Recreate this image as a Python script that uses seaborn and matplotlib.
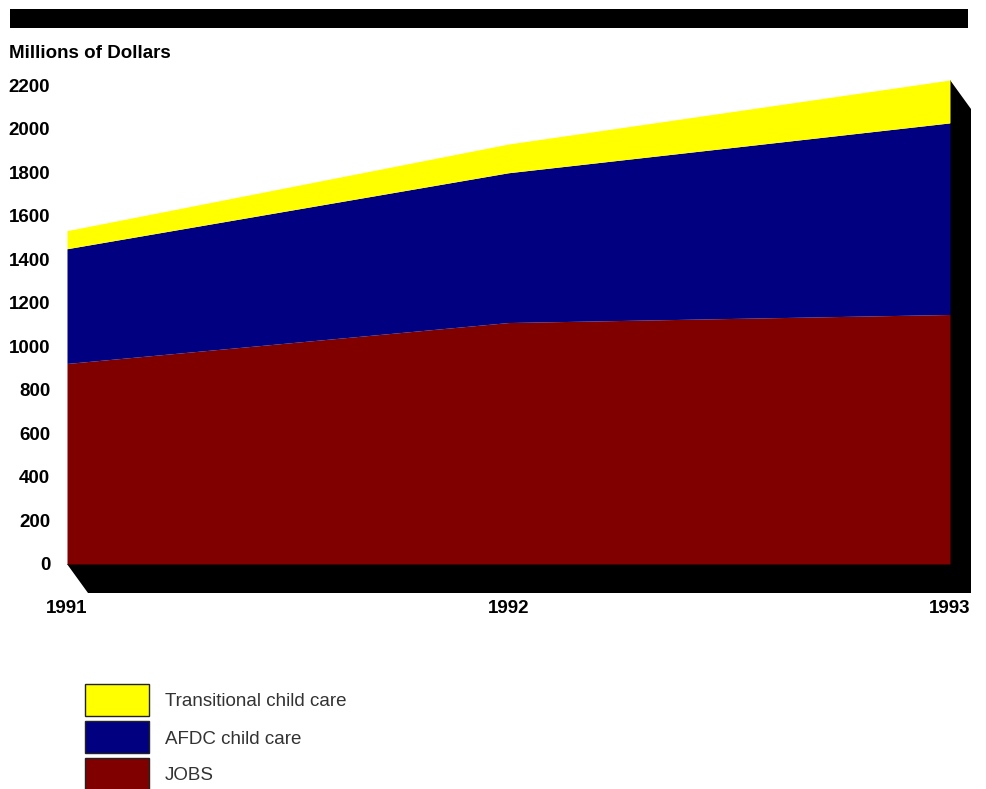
import matplotlib
matplotlib.use("Agg")
import matplotlib.pyplot as plt
from matplotlib.patches import Rectangle, Polygon
import seaborn as sns
import pandas as pd
import numpy as np

years = [1991, 1992, 1993]
jobs = [921, 1109, 1146]
afdc = [527, 688, 880]
transitional = [83, 132, 197]
series_names = ["Transitional child care", "AFDC child care", "JOBS"]
series_colors = ["#FFFF00", "#000080", "#800000"]
yticks = list(range(0, 2201, 200))

df = pd.DataFrame({"year": years, "JOBS": jobs, "AFDC child care": afdc,
                   "Transitional child care": transitional})

sns.set_theme(style="white")
plt.rcParams["font.family"] = ["Liberation Sans", "DejaVu Sans"]
plt.rcParams["text.color"] = "black"
plt.rcParams["xtick.color"] = "black"
plt.rcParams["ytick.color"] = "black"

W, H = 987, 789
fig = plt.figure(figsize=(W / 100, H / 100), dpi=100)

# axes placement in pixels
x0, x1 = 67, 950
y_zero = 564
px_per_unit = (564 - 85) / 2200.0
ytop = 2300
ax_h = ytop * px_per_unit
ax = fig.add_axes([x0 / W, (H - y_zero) / H, (x1 - x0) / W, ax_h / H])
ax.set_xlim(1991, 1993)
ax.set_ylim(0, ytop)

c1 = np.array(jobs)
c2 = c1 + np.array(afdc)
c3 = c2 + np.array(transitional)
ax.fill_between(df["year"], 0, c1, color=series_colors[2], lw=0, zorder=3)
ax.fill_between(df["year"], c1, c2, color=series_colors[1], lw=0, zorder=3)
ax.fill_between(df["year"], c2, c3, color=series_colors[0], lw=0, zorder=3)

# 3D shadow
fig.canvas.draw()
dx, dy = 21, -29
tr = ax.transData
A = tr.transform((1991, 0))
B = tr.transform((1993, 0))
C = tr.transform((1993, c3[-1]))
o = np.array([dx, dy])
pts = np.array([A, A + o, B + o, C + o, C, B])
pts_fig = pts / np.array([W, H])
fig.add_artist(Polygon(pts_fig, closed=True, facecolor="black", edgecolor="none",
                       transform=fig.transFigure, zorder=0))
ax.set_zorder(2)
ax.patch.set_visible(False)

for s in ax.spines.values():
    s.set_visible(False)
ax.set_yticks(yticks)
ax.set_yticklabels([str(v) for v in yticks], fontsize=13.5, fontweight="bold")
ax.set_xticks(years)
ax.set_xticklabels([str(y) for y in years], fontsize=13.5, fontweight="bold")
ax.tick_params(axis="y", length=0, pad=12)
ax.tick_params(axis="x", length=0, pad=26)
ax.grid(False)

# top black bar
fig.add_artist(Rectangle((10 / W, 1 - 28 / H), (968 - 10) / W, 19 / H,
                         facecolor="black", edgecolor="none", transform=fig.transFigure))
fig.text(9 / W, 1 - 54 / H, "Millions of Dollars", fontsize=13.5, fontweight="bold",
         va="center", ha="left")

# legend
box_tops = [684, 721, 758]
for name, col, top in zip(series_names, series_colors, box_tops):
    fig.add_artist(Rectangle((85 / W, 1 - (top + 32) / H), 64 / W, 32 / H,
                             facecolor=col, edgecolor="#222222", lw=1,
                             transform=fig.transFigure))
    fig.text(165 / W, 1 - (top + 18) / H, name, fontsize=13.5, color="#333333",
             va="center", ha="left")

fig.savefig("out.png", dpi=100)
